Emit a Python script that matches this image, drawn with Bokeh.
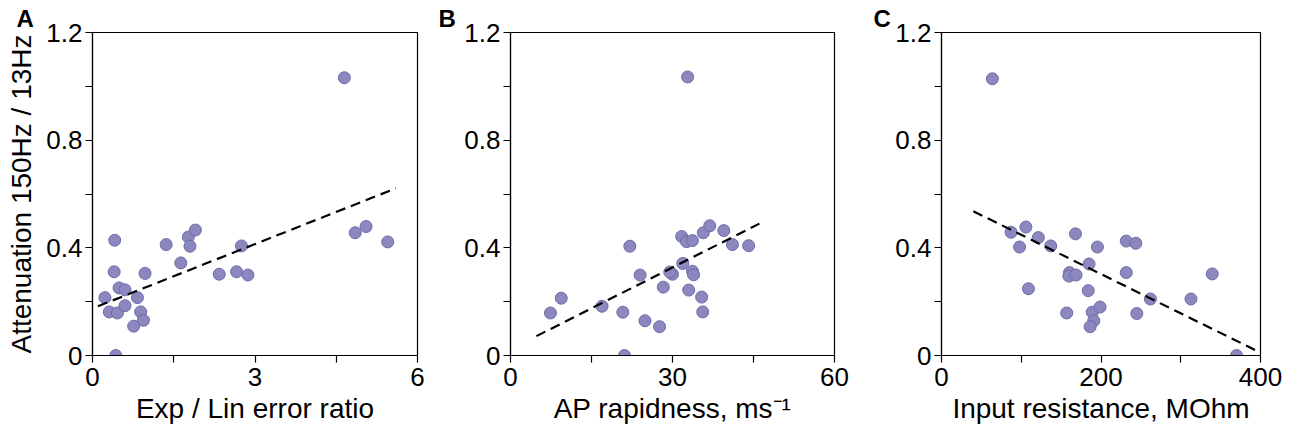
from bokeh.plotting import figure
from bokeh.layouts import row
from bokeh.models import Range1d, FixedTicker
from bokeh.embed import file_html
from bokeh.resources import INLINE

# ---- data ----
a_x = [4.65, 0.41, 0.40, 0.23, 0.31, 0.46, 0.49, 0.60, 0.60, 0.83, 0.89, 0.76, 0.94, 0.97,
       0.43, 1.36, 1.63, 1.77, 1.90, 1.80, 2.34, 2.66, 2.87, 2.75, 4.85, 5.05, 5.45]
a_y = [1.032, 0.428, 0.311, 0.215, 0.162, 0.158, 0.251, 0.244, 0.185, 0.215, 0.162, 0.109, 0.131, 0.305,
       0.0, 0.412, 0.344, 0.440, 0.466, 0.406, 0.302, 0.311, 0.299, 0.407, 0.456, 0.479, 0.422]

b_x = [32.8, 7.4, 9.4, 16.95, 20.8, 21.1, 22.1, 24.0, 24.9, 27.6, 28.3, 30.0, 29.5, 31.9,
       33.7, 33.9, 33.0, 35.4, 35.6, 31.7, 32.6, 33.7, 35.7, 36.9, 39.5, 41.1, 44.1]
b_y = [1.035, 0.158, 0.213, 0.183, 0.161, 0.0, 0.406, 0.299, 0.129, 0.107, 0.254, 0.302, 0.310, 0.342,
       0.313, 0.300, 0.243, 0.217, 0.162, 0.442, 0.423, 0.427, 0.456, 0.482, 0.464, 0.412, 0.408]

c_x = [63.8, 87.2, 105.8, 97.9, 121.4, 137.0, 109.0, 168.0, 160.5, 159.7, 168.7, 157.0, 185.0, 184.0,
       195.5, 189.0, 198.8, 191.0, 186.4, 231.7, 243.6, 231.7, 244.9, 262.0, 312.8, 339.5, 370.0]
c_y = [1.028, 0.458, 0.477, 0.403, 0.438, 0.407, 0.248, 0.452, 0.308, 0.295, 0.299, 0.158, 0.340, 0.241,
       0.403, 0.161, 0.180, 0.129, 0.107, 0.425, 0.417, 0.308, 0.156, 0.210, 0.210, 0.303, 0.0]

# regression line end points
fit_a_x = [0.10, 5.60]
fit_a_y = [0.183, 0.621]
fit_b_x = [4.8, 46.1]
fit_b_y = [0.072, 0.490]
fit_c_x = [39.9, 397.0]
fit_c_y = [0.536, 0.015]

x_ticks_a = [0, 3, 6]
x_minor_a = [1.5, 4.5]
x_ticks_b = [0, 30, 60]
x_minor_b = [15, 45]
x_ticks_c = [0, 200, 400]
x_minor_c = [100, 300]
y_ticks = [0, 0.4, 0.8, 1.2]
y_minor = [0.2, 0.6, 1.0]
y_tick_labels = {0: "0", 0.4: "0.4", 0.8: "0.8", 1.2: "1.2"}

x_labels = ["Exp / Lin error ratio", "AP rapidness, ms\u207b\u00b9", "Input resistance, MOhm"]
y_label = "Attenuation 150Hz / 13Hz"
panel_letters = ["A", "B", "C"]

FONT = "Liberation Sans"
FILL = "#8b88bf"
EDGE = "#6f6ba8"


def make_panel(xs, ys, fx, fy, xmax, xt, xm, xlabel, letter, width, left, right, ylab=None, letter_dx=-74):
    p = figure(width=width, height=426, output_backend="svg", toolbar_location=None,
               x_range=Range1d(0, xmax), y_range=Range1d(0, 1.2),
               min_border_left=left, min_border_right=right, min_border_top=32, min_border_bottom=70)
    p.grid.visible = False
    p.outline_line_color = "black"
    p.outline_line_width = 1.2
    p.background_fill_color = "white"
    p.border_fill_color = "white"

    p.scatter(xs, ys, marker="circle", size=12, fill_color=FILL, line_color=EDGE, line_width=1)
    p.line(fx, fy, line_dash="10 6", line_width=2.2, line_color="black")

    for ax in (p.xaxis[0], p.yaxis[0]):
        ax.axis_line_width = 1.2
        ax.axis_line_color = "black"
        ax.major_tick_line_width = 1.2
        ax.minor_tick_line_width = 1.2
        ax.major_tick_line_color = "black"
        ax.minor_tick_line_color = "black"
        ax.major_tick_in = 0
        ax.major_tick_out = 7
        ax.minor_tick_in = 0
        ax.minor_tick_out = 7
        ax.major_label_text_font = FONT
        ax.major_label_text_font_size = "26px"
        ax.major_label_text_color = "black"
        ax.axis_label_text_font = FONT
        ax.axis_label_text_font_size = "28px"
        ax.axis_label_text_font_style = "normal"
        ax.axis_label_text_color = "black"

    p.yaxis.major_label_standoff = 3
    p.xaxis.major_label_standoff = 5
    p.xaxis.ticker = FixedTicker(ticks=xt, minor_ticks=xm)
    p.yaxis.ticker = FixedTicker(ticks=y_ticks, minor_ticks=y_minor)
    p.yaxis.major_label_overrides = y_tick_labels
    p.xaxis.axis_label = xlabel
    p.xaxis.axis_label_standoff = 4
    if ylab:
        p.yaxis.axis_label = ylab
        p.yaxis.axis_label_standoff = 6

    p.title.text = letter
    p.title.text_font = FONT
    p.title.text_font_size = "24px"
    p.title.text_font_style = "bold"
    p.title.text_color = "black"
    p.title.align = "left"
    p.title.offset = letter_dx
    p.title.standoff = 2
    return p


pa = make_panel(a_x, a_y, fit_a_x, fit_a_y, 6, x_ticks_a, x_minor_a, x_labels[0], panel_letters[0],
                440, 92, 23, ylab=y_label, letter_dx=-76)
pb = make_panel(b_x, b_y, fit_b_x, fit_b_y, 60, x_ticks_b, x_minor_b, x_labels[1], panel_letters[1],
                430, 70, 36, letter_dx=-72)
pc = make_panel(c_x, c_y, fit_c_x, fit_c_y, 400, x_ticks_c, x_minor_c, x_labels[2], panel_letters[2],
                414, 71, 24, letter_dx=-68)

layout = row(pa, pb, pc)
open("out.html", "w").write(file_html(layout, INLINE))
